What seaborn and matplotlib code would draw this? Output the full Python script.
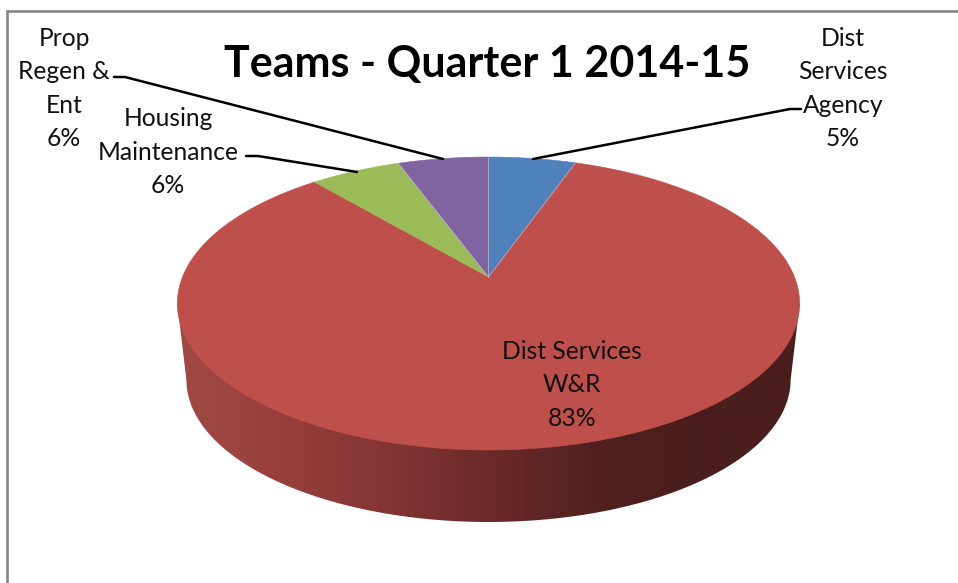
"""Teams - Quarter 1 2014-15, pie with a perspective tilt like the Excel original."""

import matplotlib

matplotlib.use("Agg")

import matplotlib.pyplot as plt
import numpy as np
import seaborn as sns
from matplotlib.patches import PathPatch, Polygon
from matplotlib.path import Path

# data, clockwise from twelve o'clock
teams = ["Dist\nServices\nAgency", "Dist Services\nW&R", "Housing\nMaintenance", "Prop\nRegen &\nEnt"]
shares = [5.4, 83.4, 5.6, 5.6]
colors = ["#4F81BD", "#BE4F4B", "#9BBB59", "#8064A2"]
title = "Teams - Quarter 1 2014-15"

# layout in pixels of the 958x583 picture
W, H = 958, 583
APEX_X, APEX_Y = 488.5, 277
TOP_A, TOP_B, TILT = 306, 141.7, 0.181
BASE_SCALE, BASE_DROP = 0.971, 77

label_xy = [(843, 88.5), (572, 385), (168, 152), (64, 88.5)]
leaders = [
    [(533, 159), (790, 109), (801, 109)],
    None,
    [(357, 172), (258, 156), (246, 156)],
    [(443, 159), (125, 77), (114, 77)],
]


def rim(theta, scale=1.0, drop=0.0):
    # theta is clockwise from the top, squeezed through a simple projective map
    u, v = np.sin(theta), np.cos(theta)
    d = 1 + TILT * v
    x = APEX_X + scale * TOP_A * u / d
    y = APEX_Y + drop - scale * TOP_B * v / d
    return x, y


sns.set_theme(style="white")
plt.rcParams["font.family"] = ["Lato", "DejaVu Sans"]

fig = plt.figure(figsize=(W / 100, H / 100), dpi=100)
ax = fig.add_axes([0, 0, 1, 1])
ax.set_xlim(0, W)
ax.set_ylim(H, 0)
ax.axis("off")

# chart area border, only top and left are in the crop
ax.plot([7.5, 7.5, W], [H, 10.5, 10.5], color="#868686", lw=1.9, solid_joinstyle="miter")

# side wall: shaded by x and clipped to the outline of the disc edge
theta_all = np.linspace(0, 2 * np.pi, 721)
top_x, top_y = rim(theta_all)
base_x, base_y = rim(theta_all, BASE_SCALE, BASE_DROP)
right_top, left_top = np.argmax(top_x), np.argmin(top_x)
right_base, left_base = np.argmax(base_x), np.argmin(base_x)
outline = np.vstack(
    [
        [top_x[right_top], top_y[right_top]],
        np.column_stack([base_x[right_base:left_base + 1], base_y[right_base:left_base + 1]]),
        [top_x[left_top], top_y[left_top]],
    ]
)
wall_cmap = sns.blend_palette(
    ["#A04A46", "#983F3C", "#843533", "#6B2A28", "#52211F", "#4A1E1C", "#4A1E1C"], as_cmap=True
)
wall = ax.imshow(
    np.linspace(0, 1, 512)[None, :],
    extent=[top_x.min(), top_x.max(), 530, 290],
    cmap=wall_cmap,
    aspect="auto",
    zorder=1,
)
clip = PathPatch(Path(outline), transform=ax.transData, fc="none", ec="none")
ax.add_patch(clip)
wall.set_clip_path(clip)
ax.set_xlim(0, W)
ax.set_ylim(H, 0)

# top face
edges = np.concatenate([[0], np.cumsum(shares)]) / np.sum(shares) * 2 * np.pi
for start, stop, color in zip(edges[:-1], edges[1:], colors):
    theta = np.linspace(start, stop, 300)
    x, y = rim(theta)
    pts = np.vstack([[APEX_X, APEX_Y], np.column_stack([x, y])])
    ax.add_patch(Polygon(pts, closed=True, fc=color, ec=color, lw=0.4, zorder=2))
for stop in edges[[1, 3, 4]]:
    x, y = rim(stop)
    ax.plot([APEX_X, x], [APEX_Y, y], color="#D9D9E6", lw=0.5, alpha=0.7, zorder=3)

# labels and leader lines
for team, share, (lx, ly), leader in zip(teams, shares, label_xy, leaders):
    ax.text(
        lx, ly, f"{team}\n{round(share)}%",
        ha="center", va="center", fontsize=17.7, color="#111111", linespacing=1.55, zorder=4,
    )
    if leader is not None:
        xs, ys = zip(*leader)
        ax.plot(xs, ys, color="black", lw=1.8, zorder=4)

ax.text(487, 64, title, ha="center", va="center", fontsize=31, fontweight="bold", color="black")

fig.savefig("out.png", dpi=100)
plt.close(fig)
